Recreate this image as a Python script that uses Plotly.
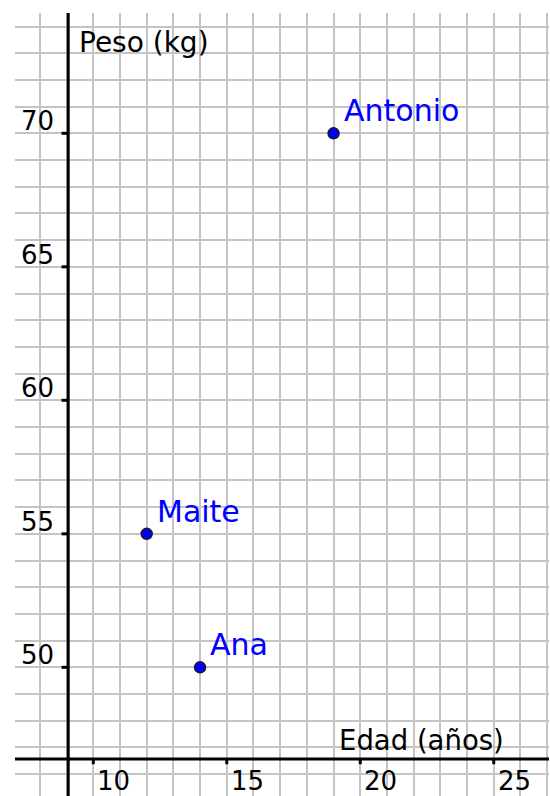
import plotly.graph_objects as go

# Data
names = ["Antonio", "Maite", "Ana"]
edad = [19, 12, 14]
peso = [70, 55, 50]

x_ticks = [10, 15, 20, 25]
y_ticks = [50, 55, 60, 65, 70]

x_title = "Edad (años)"
y_title = "Peso (kg)"

# View / axes placement (layout constants)
X_RANGE = [7.067, 27.07]
Y_RANGE = [45.18, 74.506]
X_AXIS_AT_Y = 46.57
Y_AXIS_AT_X = 9.06

FONT = "DejaVu Sans"
BLUE = "#0000ff"

fig = go.Figure()

fig.add_trace(go.Scatter(
    x=edad, y=peso, mode="markers",
    marker=dict(size=11, color=BLUE, line=dict(color="#1a1a1a", width=1.5)),
    hoverinfo="skip", showlegend=False,
))

shapes = []
# axis lines
shapes.append(dict(type="line", xref="x", yref="paper", x0=Y_AXIS_AT_X, x1=Y_AXIS_AT_X,
                   y0=0, y1=1, line=dict(color="black", width=3)))
shapes.append(dict(type="line", xref="paper", yref="y", x0=0, x1=1,
                   y0=X_AXIS_AT_Y, y1=X_AXIS_AT_Y, line=dict(color="black", width=3)))

annotations = []
# x ticks
for t in x_ticks:
    shapes.append(dict(type="line", xref="x", yref="y", x0=t, x1=t,
                       y0=X_AXIS_AT_Y, y1=X_AXIS_AT_Y - 0.2, line=dict(color="black", width=3)))
    annotations.append(dict(x=t, y=X_AXIS_AT_Y, xref="x", yref="y", text=str(t),
                            showarrow=False, xanchor="left", yanchor="top",
                            xshift=2, yshift=-5, font=dict(family=FONT, size=26, color="black")))
# y ticks
for t in y_ticks:
    shapes.append(dict(type="line", xref="x", yref="y", x0=Y_AXIS_AT_X, x1=Y_AXIS_AT_X - 0.25,
                       y0=t, y1=t, line=dict(color="black", width=3)))
    annotations.append(dict(x=Y_AXIS_AT_X, y=t, xref="x", yref="y", text=str(t),
                            showarrow=False, xanchor="right", yanchor="bottom",
                            xshift=-12, yshift=-5, font=dict(family=FONT, size=26, color="black")))

# axis titles
annotations.append(dict(x=Y_AXIS_AT_X, y=1, xref="x", yref="paper", text=y_title,
                        showarrow=False, xanchor="left", yanchor="top",
                        xshift=9, yshift=-11, font=dict(family=FONT, size=28, color="black")))
annotations.append(dict(x=1, y=X_AXIS_AT_Y, xref="paper", yref="y", text=x_title,
                        showarrow=False, xanchor="right", yanchor="bottom",
                        xshift=-43, yshift=1, font=dict(family=FONT, size=27.5, color="black")))

# point labels
for n, xv, yv in zip(names, edad, peso):
    annotations.append(dict(x=xv, y=yv, xref="x", yref="y", text=n,
                            showarrow=False, xanchor="left", yanchor="bottom",
                            xshift=8, yshift=3, font=dict(family=FONT, size=30, color=BLUE)))

fig.update_layout(
    width=550, height=796,
    margin=dict(l=15, r=1, t=13, b=0),
    paper_bgcolor="white", plot_bgcolor="white",
    xaxis=dict(range=X_RANGE, dtick=1, tick0=0, showgrid=True, gridcolor="#c4c4c4",
               gridwidth=2, zeroline=False, showticklabels=False, showline=False,
               fixedrange=True),
    yaxis=dict(range=Y_RANGE, dtick=1, tick0=0, showgrid=True, gridcolor="#c4c4c4",
               gridwidth=2, zeroline=False, showticklabels=False, showline=False,
               fixedrange=True),
    shapes=shapes,
    annotations=annotations,
    showlegend=False,
)

fig.write_html("out.html", config={"displayModeBar": False, "staticPlot": True},
               post_script="document.body.style.margin='0';document.body.style.overflow='hidden';")
